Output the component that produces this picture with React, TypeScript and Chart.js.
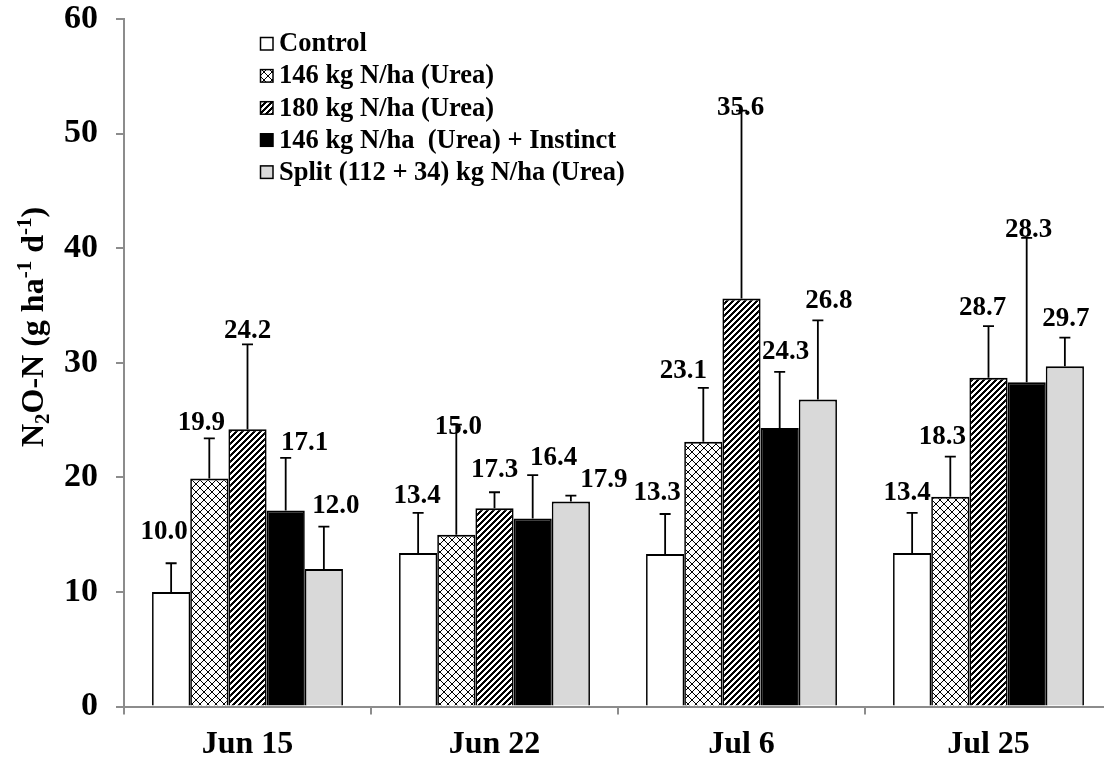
import React, { useEffect, useRef } from "react";
import { Chart, registerables } from "chart.js";

Chart.register(...registerables);

const categories = ["Jun 15", "Jun 22", "Jul 6", "Jul 25"];
const seriesNames = [
  "Control",
  "146 kg N/ha (Urea)",
  "180 kg N/ha (Urea)",
  "146 kg N/ha  (Urea) + Instinct",
  "Split (112 + 34) kg N/ha (Urea)",
];
const controlValues = [10.0, 13.4, 13.3, 13.4];
const urea146Values = [19.9, 15.0, 23.1, 18.3];
const urea180Values = [24.2, 17.3, 35.6, 28.7];
const instinctValues = [17.1, 16.4, 24.3, 28.3];
const splitValues = [12.0, 17.9, 26.8, 29.7];

const controlErr = [2.5, 3.5, 3.5, 3.5];
const urea146Err = [3.5, 9.6, 4.7, 3.5];
const urea180Err = [7.4, 1.4, 16.4, 4.5];
const instinctErr = [4.6, 3.8, 4.9, 12.6];
const splitErr = [3.7, 0.5, 6.9, 2.5];

const yTicks = [0, 10, 20, 30, 40, 50, 60];

// pixel offsets of each value label from the top of its error bar
const labelOffsets = [
  [[-7, -31], [-1, -17], [-8, -21], [-5, -20]],
  [[-8, -15], [2, 2], [-20, -17], [-8, -20]],
  [[0, -13], [0, -22], [-1, -3], [-6, -18]],
  [[19, -15], [21, -17], [6, -20], [2, -8]],
  [[12, -21], [33, -16], [11, -19], [1, -19]],
];

const FONT = "'Liberation Serif', 'Times New Roman', serif";
const GRAY = "#8c8c8c";

function crossPattern(ctx: CanvasRenderingContext2D) {
  const c = document.createElement("canvas");
  c.width = 8;
  c.height = 8;
  const g = c.getContext("2d")!;
  g.fillStyle = "#fff";
  g.fillRect(0, 0, 8, 8);
  g.fillStyle = "#000";
  for (let i = 0; i < 8; i++) {
    g.fillRect(i, i, 1, 1);
    g.fillRect(7 - i, i, 1, 1);
  }
  return ctx.createPattern(c, "repeat")!;
}

function diagPattern(ctx: CanvasRenderingContext2D) {
  const n = 6;
  const c = document.createElement("canvas");
  c.width = n;
  c.height = n;
  const g = c.getContext("2d")!;
  g.fillStyle = "#fff";
  g.fillRect(0, 0, n, n);
  g.fillStyle = "#000";
  for (let x = 0; x < n; x++)
    for (let y = 0; y < n; y++) if ((x + y) % n < 3) g.fillRect(x, y, 1, 1);
  return ctx.createPattern(c, "repeat")!;
}

export default function App() {
  const ref = useRef<HTMLCanvasElement>(null);

  useEffect(() => {
    const canvas = ref.current!;
    const ctx = canvas.getContext("2d")!;
    const fills: any[] = ["#ffffff", crossPattern(ctx), diagPattern(ctx), "#000000", "#d9d9d9"];
    const values = [controlValues, urea146Values, urea180Values, instinctValues, splitValues];
    const errors = [controlErr, urea146Err, urea180Err, instinctErr, splitErr];

    const errorAndLabels = {
      id: "errorAndLabels",
      afterDatasetsDraw(chart: any) {
        const c = chart.ctx;
        const y = chart.scales.y;
        c.save();
        c.strokeStyle = "#000";
        c.lineWidth = 1.8;
        values.forEach((vals, di) => {
          const meta = chart.getDatasetMeta(di);
          meta.data.forEach((bar: any, i: number) => {
            const x = bar.x;
            const y0 = y.getPixelForValue(vals[i]);
            const y1 = y.getPixelForValue(vals[i] + errors[di][i]);
            c.beginPath();
            c.moveTo(x, y0);
            c.lineTo(x, y1);
            c.moveTo(x - 5.5, y1);
            c.lineTo(x + 5.5, y1);
            c.stroke();
          });
        });
        c.fillStyle = "#000";
        c.font = `bold 27px ${FONT}`;
        c.textAlign = "center";
        c.textBaseline = "middle";
        values.forEach((vals, di) => {
          const meta = chart.getDatasetMeta(di);
          meta.data.forEach((bar: any, i: number) => {
            const y1 = y.getPixelForValue(vals[i] + errors[di][i]);
            const [dx, dy] = labelOffsets[di][i];
            c.fillText(vals[i].toFixed(1), bar.x + dx, y1 + dy);
          });
        });
        c.restore();
      },
      afterDraw(chart: any) {
        const c = chart.ctx;
        c.save();
        c.font = `bold 26.5px ${FONT}`;
        c.textBaseline = "middle";
        c.textAlign = "left";
        seriesNames.forEach((name, i) => {
          const cy = 43.5 + i * 32.1;
          c.fillStyle = fills[i];
          c.fillRect(260, cy - 6.5, 13, 13);
          c.strokeStyle = "#000";
          c.lineWidth = 1.5;
          c.strokeRect(260.5, cy - 6, 12.5, 12.5);
          c.fillStyle = "#000";
          c.fillText(name, 279, cy + 1);
        });
        const size = 32;
        const small = 21;
        const segs: [string, number, number][] = [
          ["N", size, 0],
          ["2", small, 6],
          ["O-N (g ha", size, 0],
          ["-1", small, -12],
          [" d", size, 0],
          ["-1", small, -12],
          [")", size, 0],
        ];
        let total = 0;
        segs.forEach(([t, s]) => {
          c.font = `bold ${s}px ${FONT}`;
          total += c.measureText(t).width;
        });
        c.translate(32, 327);
        c.rotate(-Math.PI / 2);
        c.textBaseline = "alphabetic";
        let x = -total / 2;
        segs.forEach(([t, s, off]) => {
          c.font = `bold ${s}px ${FONT}`;
          c.fillText(t, x, 11 + off);
          x += c.measureText(t).width;
        });
        c.restore();
      },
    };

    const chart = new Chart(canvas, {
      type: "bar",
      data: {
        labels: categories,
        datasets: seriesNames.map((name, i) => ({
          label: name,
          data: values[i],
          backgroundColor: fills[i],
          borderColor: "#000",
          borderWidth: { top: 2, left: 1.7, right: 1.7, bottom: 0 },
          borderSkipped: false,
          categoryPercentage: 0.773,
          barPercentage: 1,
        })),
      },
      options: {
        responsive: false,
        animation: false,
        layout: { padding: { top: 19, right: 18, left: 0, bottom: 0 } },
        plugins: { legend: { display: false }, tooltip: { enabled: false } },
        scales: {
          x: {
            grid: { drawOnChartArea: false, tickLength: 8, color: GRAY, lineWidth: 2 },
            border: { color: GRAY, width: 2 },
            ticks: { color: "#000", font: { family: FONT, size: 32, weight: "bold" }, padding: 11 },
            afterFit: (s: any) => {
              s.height = 52.5;
              s.paddingLeft = 0;
              s.paddingRight = 0;
            },
          },
          y: {
            min: 0,
            max: 60,
            afterBuildTicks: (s: any) => {
              s.ticks = yTicks.map((v) => ({ value: v }));
            },
            grid: { drawOnChartArea: false, tickLength: 8, color: GRAY, lineWidth: 2 },
            border: { color: GRAY, width: 2 },
            ticks: { color: "#000", font: { family: FONT, size: 34, weight: "bold" }, padding: 18 },
            afterFit: (s: any) => {
              s.width = 124;
              s.paddingTop = 0;
              s.paddingBottom = 0;
            },
          },
        },
      },
      plugins: [errorAndLabels],
    } as any);
    return () => chart.destroy();
  }, []);

  return (
    <div
      style={{
        position: "fixed",
        left: 0,
        top: 0,
        width: 1104,
        height: 759,
        overflow: "hidden",
        background: "#fff",
      }}
    >
      <canvas ref={ref} width={1130} height={759} style={{ display: "block" }} />
    </div>
  );
}
